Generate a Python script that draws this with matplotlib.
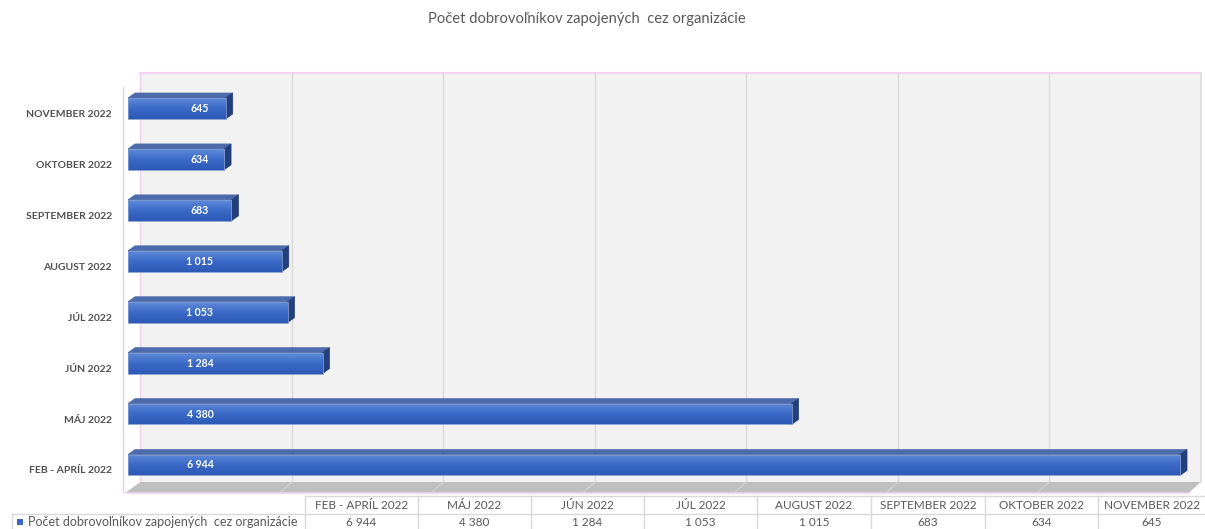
import matplotlib
matplotlib.use("Agg")
import matplotlib.pyplot as plt
import numpy as np
from matplotlib.patches import Polygon, Rectangle
from matplotlib.colors import LinearSegmentedColormap

categories = ["FEB - APRÍL 2022", "MÁJ 2022", "JÚN 2022", "JÚL 2022",
              "AUGUST 2022", "SEPTEMBER 2022", "OKTOBER 2022", "NOVEMBER 2022"]
values = [6944, 4380, 1284, 1053, 1015, 683, 634, 645]
value_labels = ["6 944", "4 380", "1 284", "1 053", "1 015", "683", "634", "645"]
series_name = "Počet dobrovoľníkov zapojených  cez organizácie"
title = "Počet dobrovoľníkov zapojených  cez organizácie"
x_max = 7000
grid_step = 1000

plt.rcParams['font.family'] = ['Lato', 'DejaVu Sans']
TXT = "#595959"

W, H = 1205, 529
fig = plt.figure(figsize=(W / 100, H / 100), dpi=100)

# front plane axes (pixel geometry)
left_px, right_px, top_px, bot_px = 128, 1188.5, 84, 493
ax = fig.add_axes([left_px / W, 1 - bot_px / H, (right_px - left_px) / W, (bot_px - top_px) / H])
ax.set_xlim(0, x_max)
ylo, yhi = -0.55, 7.48
ax.set_ylim(ylo, yhi)
ax.axis("off")

def px2data(dxpx, dypx):
    p0 = ax.transData.transform((0, 0))
    x1, y1 = ax.transData.inverted().transform(p0 + np.array([dxpx, dypx]))
    return x1, y1

# depth offsets
dxw, dyw = px2data(12.4, 11)     # wall depth
dxb, dyb = px2data(7, 5)         # bar depth

# back wall
wall = Polygon([(dxw, ylo + dyw), (x_max + dxw, ylo + dyw), (x_max + dxw, yhi + dyw), (dxw, yhi + dyw)],
               closed=True, facecolor="#F2F2F2", edgecolor="none", clip_on=False, zorder=0)
ax.add_patch(wall)
ax.plot([dxw, x_max + dxw], [yhi + dyw, yhi + dyw], color="#F6D3F2", lw=1.5, clip_on=False, zorder=1)
ax.plot([x_max + dxw, x_max + dxw], [ylo + dyw, yhi + dyw], color="#DCDCDC", lw=1.2, clip_on=False, zorder=1)
ax.plot([dxw, dxw], [ylo + dyw, yhi + dyw], color="#F0D0EE", lw=1, clip_on=False, zorder=1)
# left wall front edge
lx, _ = px2data(-5.5, 0)
ax.plot([lx, lx], [ylo + 0.02, yhi - 0.05], color="#D9D9D9", lw=1, clip_on=False, zorder=1)

# gridlines on the wall
for gx in np.arange(grid_step, x_max, grid_step):
    ax.plot([gx + dxw, gx + dxw], [ylo + dyw, yhi + dyw], color="#D9D9D9", lw=1, clip_on=False, zorder=1)

# floor
fx0, _ = px2data(-3, 0)
floor = Polygon([(fx0, ylo), (x_max, ylo), (x_max + dxw, ylo + dyw), (dxw, ylo + dyw)],
                closed=True, facecolor="#BFBFBF", edgecolor="none", clip_on=False, zorder=2)
ax.add_patch(floor)
for gx in np.arange(grid_step, x_max, grid_step):
    ax.plot([gx, gx + dxw], [ylo, ylo + dyw], color="#D4D4D4", lw=0.8, clip_on=False, zorder=2.1)
ax.plot([fx0, x_max], [ylo, ylo], color="#F2CFEF", lw=1.2, clip_on=False, zorder=2.2)

# bars
bh = 0.41
cmap = LinearSegmentedColormap.from_list("bar", ["#5F8BDB", "#3B69C6", "#2C5AB5"])
grad = np.linspace(0, 1, 64).reshape(-1, 1)
for i, v in enumerate(values):
    y0, y1 = i - bh / 2, i + bh / 2
    # top face
    ax.add_patch(Polygon([(0, y1), (v, y1), (v + dxb, y1 + dyb), (dxb, y1 + dyb)], closed=True,
                         facecolor="#4D6BAA", edgecolor="#4D6BAA", lw=0.5, zorder=5))
    # side face
    ax.add_patch(Polygon([(v, y0), (v, y1), (v + dxb, y1 + dyb), (v + dxb, y0 + dyb)], closed=True,
                         facecolor="#233F7C", edgecolor="#233F7C", lw=0.5, zorder=5))
    # front face with gradient
    im = ax.imshow(grad, extent=[0, v, y0, y1], aspect="auto", cmap=cmap, origin="upper",
                   zorder=6, interpolation="bicubic")
    rect = Rectangle((0, y0), v, bh, facecolor="none", edgecolor="#7F9AD0", lw=0.6, zorder=7)
    ax.add_patch(rect)
    im.set_clip_path(rect)
    # value label
    ax.annotate(value_labels[i], xy=(0, i), xytext=(72, 0), textcoords="offset pixels",
                ha="center", va="center", color="white", fontsize=7.6, fontweight="bold", zorder=8)
    # category label
    ax.annotate(categories[i], xy=(0, i), xytext=(-16, -6), textcoords="offset pixels",
                ha="right", va="center", color="#505050", fontsize=7.5, fontweight="bold",
                annotation_clip=False)

ax.set_xlim(0, x_max)
ax.set_ylim(ylo, yhi)

# title
fig.text(587 / W, 1 - 19 / H, title, ha="center", va="center", fontsize=10.6, color=TXT)

# data table
tax = fig.add_axes([0, 0, 1, 1])
tax.set_xlim(0, W)
tax.set_ylim(H, 0)
tax.axis("off")
col_edges = [305, 418, 531, 644, 757, 871, 985, 1098, 1211]
row_top, row_mid, row_bot = 496, 513.5, 531
bc = "#D9D9D9"
tax.plot([305, W], [row_top, row_top], color=bc, lw=1)
tax.plot([12, W], [row_mid, row_mid], color=bc, lw=1)
tax.plot([12, 12], [row_mid, row_bot], color=bc, lw=1)
for xe in col_edges:
    tax.plot([xe, xe], [row_top, row_bot], color=bc, lw=1)
for j, cat in enumerate(categories):
    xc = (col_edges[j] + col_edges[j + 1]) / 2
    if j == len(categories) - 1:
        xc = (col_edges[j] + W) / 2
    tax.text(xc, (row_top + row_mid) / 2 + 0.5, cat, ha="center", va="center", fontsize=8.5, color=TXT)
    tax.text(xc, (row_mid + row_bot) / 2, value_labels[j], ha="center", va="center", fontsize=8.5, color=TXT)
tax.add_patch(Rectangle((17, 519), 6, 6, facecolor="#3A66C4", edgecolor="none"))
tax.text(28, 522.5, series_name, ha="left", va="center", fontsize=9, color=TXT)

fig.savefig("out.png", dpi=100)
